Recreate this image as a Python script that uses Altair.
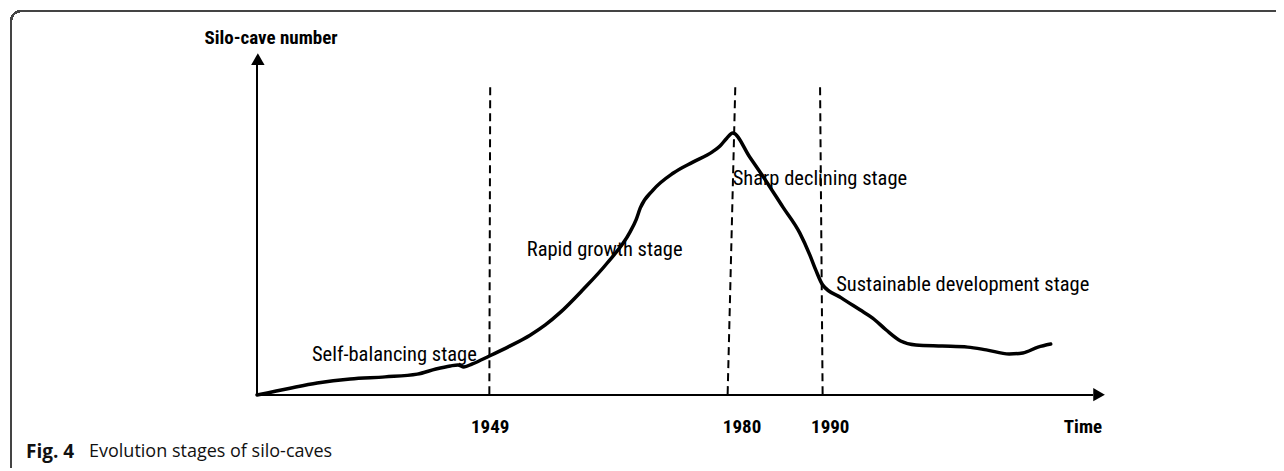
import altair as alt
import pandas as pd

# ---- data (conceptual units: time index 0-100 along the time arrow, silo-cave count 0-100 up to the arrow tip)
curve_t = [0, 3.9, 7.1, 11.0, 15.1, 18.9, 21.1, 22.8, 23.7, 24.4,
           25.4, 27.4, 29.8, 32.2, 34.0, 35.7, 38.4, 41.3, 44.0, 44.7,
           45.2, 46.7, 49.1, 51.4, 53.7, 54.6, 55.4, 56.1, 58.1, 60.1,
           62.0, 64.0, 65.2, 65.9, 66.7, 68.9, 71.1, 72.6, 74.2, 75.9,
           77.7, 80.8, 83.8, 86.0, 88.7, 90.3, 92.1, 93.6]
curve_n = [0, 2.0, 3.5, 4.7, 5.3, 6.1, 7.6, 8.5, 8.8, 8.2,
           9.1, 11.4, 14.3, 17.5, 20.5, 24.0, 30.7, 38.6, 47.7, 51.2,
           54.7, 59.9, 64.9, 68.1, 71.1, 72.8, 75.1, 76.6, 69.6, 62.3,
           55.0, 47.4, 40.9, 36.5, 32.2, 28.4, 24.9, 22.5, 19.0, 15.8,
           14.6, 14.3, 14.0, 13.2, 12.0, 12.3, 14.0, 14.9]

years = ["1949", "1980", "1990"]
year_t_top = [27.5, 56.4, 66.4]
year_t_bottom = [27.4, 55.5, 66.7]
year_label_t = [27.5, 57.2, 67.6]

stage_labels = ["Self-balancing stage", "Rapid growth stage", "Sharp declining stage", "Sustainable development stage"]
stage_t = [16.2, 41.0, 56.1, 68.3]
stage_n = [11.7, 42.4, 63.2, 32.2]
stage_align = ["center", "center", "left", "left"]

x_title = "Time"
y_title = "Silo-cave number"
caption_bold = "Fig. 4"
caption_text = "Evolution stages of silo-caves"

# ---- layout
W, H = 1268, 460
ORIGIN_X, ORIGIN_Y = 249, 387     # origin of the axes in chart pixels
PX_T, PX_N = 8.48, 3.42           # pixels per unit
x_dom = [(0 - ORIGIN_X) / PX_T, (W - ORIGIN_X) / PX_T]
y_dom = [(ORIGIN_Y - H) / PX_N, ORIGIN_Y / PX_N]
xs = alt.Scale(domain=x_dom, nice=False, zero=False)
ys = alt.Scale(domain=y_dom, nice=False, zero=False)
NARROW = "Liberation Sans Narrow, Arial Narrow, Roboto Condensed, Liberation Sans, sans-serif"

def X(f="t"):
    return alt.X(f"{f}:Q", scale=xs, axis=None)

def Y(f="n"):
    return alt.Y(f"{f}:Q", scale=ys, axis=None)

curve_df = pd.DataFrame({"t": curve_t, "n": curve_n})
year_df = pd.DataFrame({"year": years, "t": year_t_top, "t2": year_t_bottom,
                        "n": [90.0] * 3, "n2": [0.3] * 3, "lt": year_label_t, "ln": [-9.4] * 3})
stage_df = pd.DataFrame({"label": stage_labels, "t": stage_t, "n": stage_n, "align": stage_align})
axes_df = pd.DataFrame({"t": [0, 0], "n": [0, 0], "t2": [0, 98.6], "n2": [97.4, 0]})
arrow_df = pd.DataFrame({"t": [0.1, 99.3], "n": [98.2, 0.1], "shape": ["triangle-up", "triangle-right"]})
title_df = pd.DataFrame({"label": [y_title, x_title], "t": [1.65, 97.4], "n": [104.4, -9.4]})

base = alt.Chart(curve_df)

frame = base.mark_rect(filled=False, stroke="#444444", strokeWidth=1.5, cornerRadiusTopLeft=10).encode(
    x=alt.value(3), y=alt.value(3), x2=alt.value(W + 40), y2=alt.value(H + 40))

axes = alt.Chart(axes_df).mark_rule(color="black", strokeWidth=2).encode(
    x=X(), y=Y(), x2="t2:Q", y2="n2:Q")

arrows = alt.Chart(arrow_df).mark_point(filled=True, color="black", size=180, opacity=1).encode(
    x=X(), y=Y(), shape=alt.Shape("shape:N", scale=None))

dashes = alt.Chart(year_df).mark_rule(color="black", strokeWidth=2, strokeDash=[8, 5]).encode(
    x=X(), y=Y(), x2="t2:Q", y2="n2:Q")

year_text = alt.Chart(year_df).mark_text(font=NARROW, fontSize=19, fontWeight="bold", baseline="middle",
                                         align="center", color="black").encode(
    x=X("lt"), y=Y("ln"), text="year:N")

titles = alt.Chart(title_df).mark_text(font=NARROW, fontSize=19, fontWeight="bold", baseline="middle",
                                       align="center", color="black").encode(
    x=X(), y=Y(), text="label:N")

stage_center = alt.Chart(stage_df[stage_df["align"] == "center"]).mark_text(
    font=NARROW, fontSize=20.5, baseline="middle", align="center", color="black").encode(
    x=X(), y=Y(), text="label:N")
stage_left = alt.Chart(stage_df[stage_df["align"] == "left"]).mark_text(
    font=NARROW, fontSize=20.5, baseline="middle", align="left", color="black").encode(
    x=X(), y=Y(), text="label:N")

line = base.mark_line(color="black", strokeWidth=3.5, interpolate="monotone",
                      strokeCap="round", strokeJoin="round").encode(x=X(), y=Y())

cap_df = pd.DataFrame({"a": [caption_bold], "b": [caption_text]})
cap1 = alt.Chart(cap_df).mark_text(font="Open Sans", fontSize=19, fontWeight="bold", align="left",
                                   baseline="middle", color="#111111").encode(
    x=alt.value(18), y=alt.value(444), text="a:N")
cap2 = alt.Chart(cap_df).mark_text(font="Open Sans", fontSize=18, align="left",
                                   baseline="middle", color="#111111").encode(
    x=alt.value(81), y=alt.value(444), text="b:N")

chart = alt.layer(frame, stage_center, stage_left, axes, arrows, dashes, line, year_text, titles, cap1, cap2).properties(
    width=W, height=H, padding=0, autosize=alt.AutoSizeParams(type="none")
).configure_view(stroke=None)

chart.save("out.html", embed_options={"renderer": "svg", "actions": False})
